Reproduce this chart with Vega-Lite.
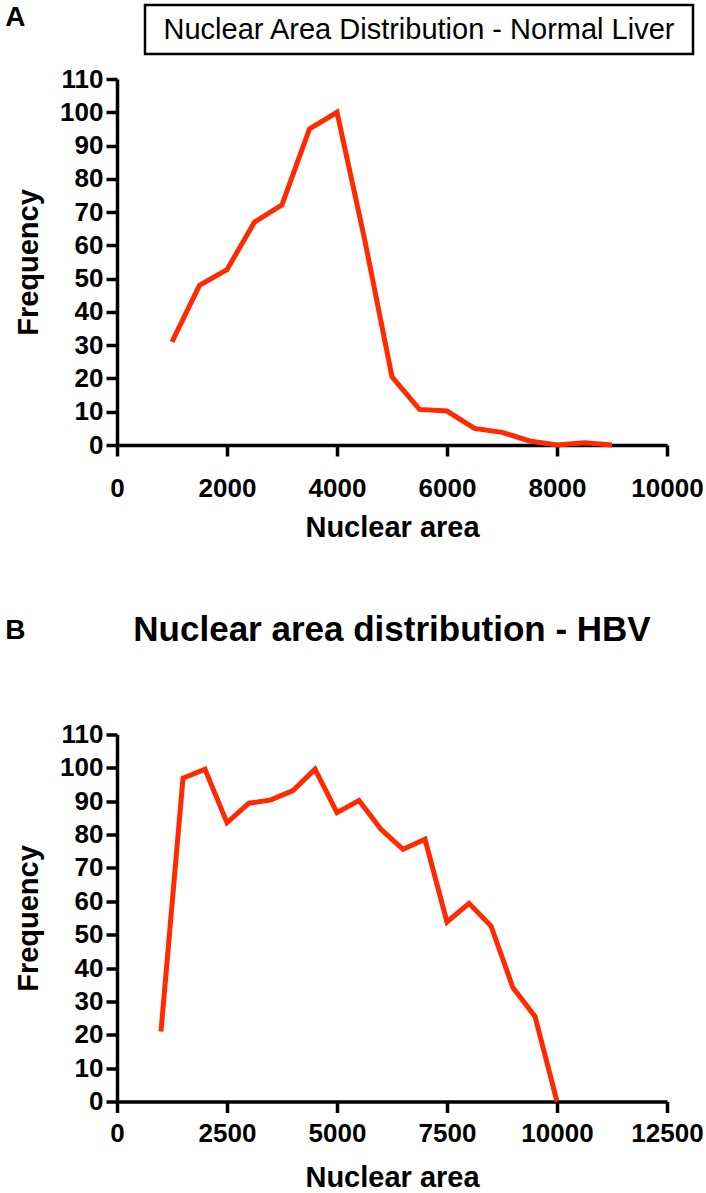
{
  "$schema": "https://vega.github.io/schema/vega-lite/v6.json",
  "padding": {"left": 0, "top": 3, "right": 0, "bottom": 0},
  "config": {
    "font": "Liberation Sans",
    "view": {"stroke": null},
    "axis": {
      "grid": false,
      "domainColor": "black",
      "domainWidth": 3.5,
      "tickColor": "black",
      "tickWidth": 3.5,
      "tickSize": 11,
      "labelColor": "black",
      "labelFont": "Liberation Sans",
      "labelFontSize": 26,
      "labelFontWeight": "bold",
      "labelOverlap": false,
      "labelFlush": false,
      "titleColor": "black",
      "titleFont": "Liberation Sans",
      "titleFontSize": 29,
      "titleFontWeight": "bold"
    }
  },
  "datasets": {
    "normal": [
      {"area": 1000, "frequency": 31},
      {"area": 1500, "frequency": 48},
      {"area": 2000, "frequency": 52.7},
      {"area": 2500, "frequency": 67},
      {"area": 3000, "frequency": 72.2},
      {"area": 3500, "frequency": 95},
      {"area": 4000, "frequency": 100},
      {"area": 4500, "frequency": 62},
      {"area": 5000, "frequency": 20.5},
      {"area": 5500, "frequency": 10.7},
      {"area": 6000, "frequency": 10.2},
      {"area": 6500, "frequency": 5},
      {"area": 7000, "frequency": 3.8},
      {"area": 7500, "frequency": 1.2},
      {"area": 8000, "frequency": 0},
      {"area": 8500, "frequency": 0.7},
      {"area": 9000, "frequency": 0}
    ],
    "hbv": [
      {"area": 1000, "frequency": 21},
      {"area": 1500, "frequency": 96.9},
      {"area": 2000, "frequency": 99.6},
      {"area": 2500, "frequency": 83.6},
      {"area": 3000, "frequency": 89.4},
      {"area": 3500, "frequency": 90.4},
      {"area": 4000, "frequency": 93.2},
      {"area": 4500, "frequency": 99.6},
      {"area": 5000, "frequency": 86.6},
      {"area": 5500, "frequency": 90.2},
      {"area": 6000, "frequency": 81.6},
      {"area": 6500, "frequency": 75.6},
      {"area": 7000, "frequency": 78.6},
      {"area": 7500, "frequency": 53.8},
      {"area": 8000, "frequency": 59.4},
      {"area": 8500, "frequency": 52.6},
      {"area": 9000, "frequency": 34.1},
      {"area": 9500, "frequency": 25.5},
      {"area": 10000, "frequency": 0}
    ]
  },
  "spacing": 71,
  "vconcat": [
    {
      "spacing": 10,
      "vconcat": [
        {
          "bounds": "flush",
          "spacing": 20,
          "hconcat": [
            {
              "width": 8,
              "height": 24,
              "data": {"values": [{"panel": "A"}]},
              "mark": {"type": "text", "text": ""},
              "encoding": {
                "y": {
                  "field": "panel",
                  "type": "nominal",
                  "axis": {"domain": false, "ticks": false, "labels": false, "title": "A", "titleAngle": 0, "titleAlign": "right", "titleBaseline": "middle", "titlePadding": 92, "titleFontSize": 28, "titleFontWeight": "bold"}
                }
              }
            },
            {
              "width": 548,
              "height": 49,
              "view": {"stroke": "black", "strokeWidth": 2.5},
              "data": {"values": [{"label": "Nuclear Area Distribution - Normal Liver"}]},
              "mark": {"type": "text", "fontSize": 29, "fontWeight": "normal", "color": "black"},
              "encoding": {"text": {"field": "label"}}
            }
          ]
        },
        {
          "width": 550,
          "height": 366,
          "data": {"name": "normal"},
          "mark": {"type": "line", "color": "#ff2a00", "strokeWidth": 5},
          "encoding": {
            "x": {
              "field": "area",
              "type": "quantitative",
              "scale": {"domain": [0, 10000], "nice": false},
              "axis": {"values": [0, 2000, 4000, 6000, 8000, 10000], "format": "d", "title": "Nuclear area", "labelPadding": 19, "titlePadding": 12}
            },
            "y": {
              "field": "frequency",
              "type": "quantitative",
              "scale": {"domain": [0, 110], "nice": false},
              "axis": {"values": [0, 10, 20, 30, 40, 50, 60, 70, 80, 90, 100, 110], "format": "d", "title": ["", "Frequency"], "titleLineHeight": 14, "labelPadding": 3, "titlePadding": 16}
            }
          }
        }
      ]
    },
    {
      "spacing": 73.5,
      "vconcat": [
        {
          "width": 550,
          "height": 34,
          "data": {"values": [{"panel": "B", "label": "Nuclear area distribution - HBV"}]},
          "mark": {"type": "text", "fontSize": 35, "fontWeight": "bold", "color": "black"},
          "encoding": {
            "text": {"field": "label"},
            "y": {
              "field": "panel",
              "type": "nominal",
              "axis": {"domain": false, "ticks": false, "labels": false, "title": "B", "titleAngle": 0, "titleAlign": "right", "titleBaseline": "middle", "titlePadding": 92, "titleFontSize": 28, "titleFontWeight": "bold"}
            }
          }
        },
        {
          "width": 550,
          "height": 367,
          "data": {"name": "hbv"},
          "mark": {"type": "line", "color": "#ff2a00", "strokeWidth": 5},
          "encoding": {
            "x": {
              "field": "area",
              "type": "quantitative",
              "scale": {"domain": [0, 12500], "nice": false},
              "axis": {"values": [0, 2500, 5000, 7500, 10000, 12500], "format": "d", "title": "Nuclear area", "labelPadding": 8, "titlePadding": 17}
            },
            "y": {
              "field": "frequency",
              "type": "quantitative",
              "scale": {"domain": [0, 110], "nice": false},
              "axis": {"values": [0, 10, 20, 30, 40, 50, 60, 70, 80, 90, 100, 110], "format": "d", "title": ["", "Frequency"], "titleLineHeight": 14, "labelPadding": 3, "titlePadding": 16}
            }
          }
        }
      ]
    }
  ]
}
